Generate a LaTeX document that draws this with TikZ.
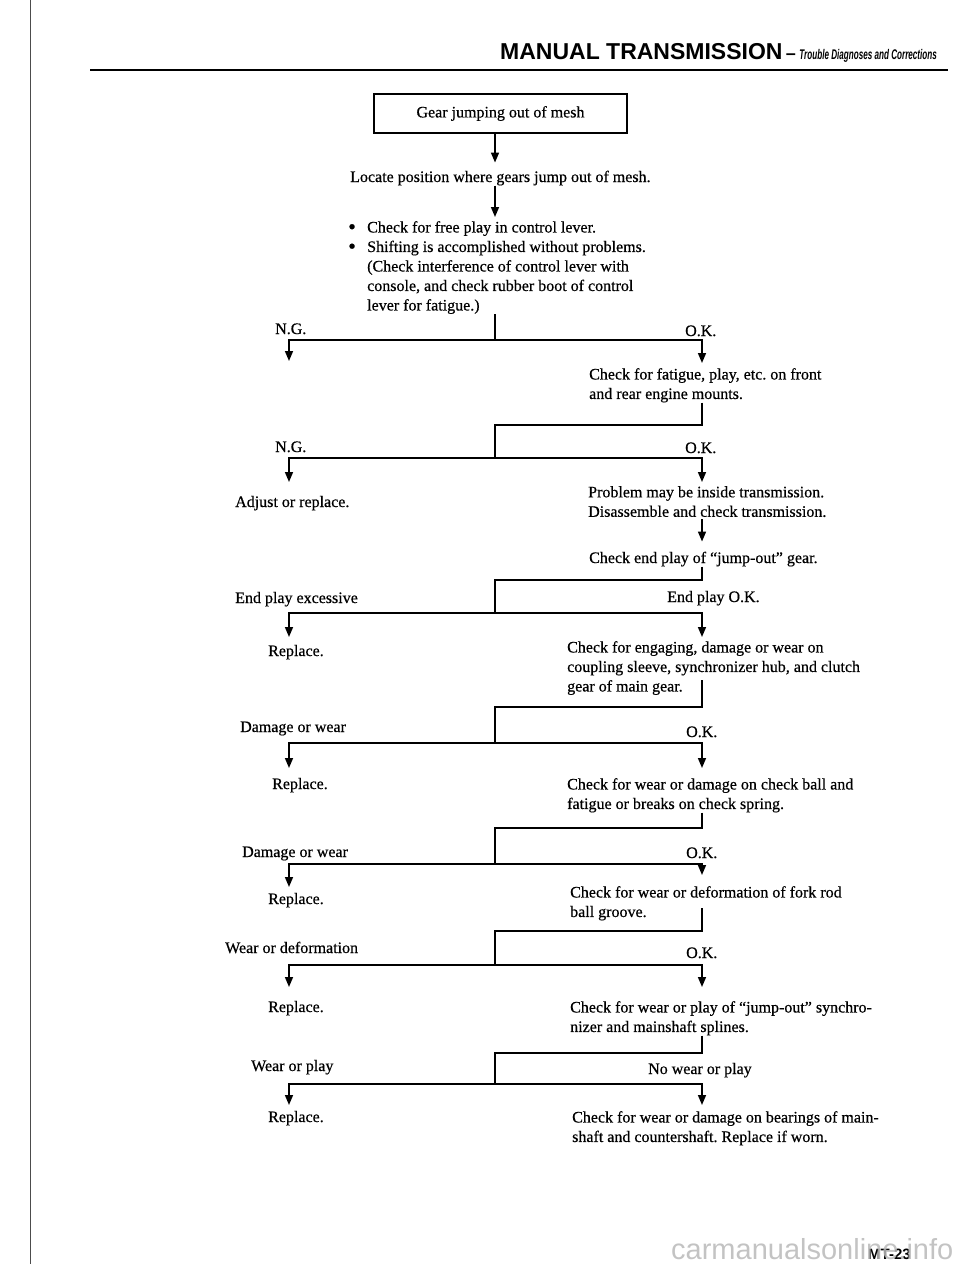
\documentclass[tikz,border=0pt]{standalone}
\usepackage{fontspec}
\setmainfont{Liberation Serif}[FakeBold=0.5]
\newfontfamily\hdrfont{Liberation Sans}
\newfontfamily\hdrcond[FakeStretch=0.58]{Liberation Sans}
\usetikzlibrary{arrows.meta}
\frenchspacing

\newcommand{\bodysize}{\fontsize{16}{19.5}\selectfont}
\newcommand{\dotmark}{\makebox[19pt][l]{\smash{\raisebox{-1.5pt}{\fontsize{22}{22}\selectfont\textbullet}}}}

\tikzset{
    txt/.style = {font=\bodysize, inner sep=0pt, align=left, anchor=north west},
    lbl/.style = {font=\bodysize, inner sep=0pt, anchor=base west},
    topbox/.style = {draw, line width=2pt, minimum width=253pt, minimum height=39pt, inner sep=0pt, font=\bodysize},
    flow/.style = {line width=1.6pt},
    flowarr/.style = {flow, ->}
}

\begin{document}
\begin{tikzpicture}[x=1pt, y=-1pt, >={Triangle[length=10pt, width=8pt]}]
    \useasboundingbox (0,0) rectangle (960,1264);

    % page edge and header
    \draw[black!70, line width=1pt] (30,0) -- (30,1264);
    \node[lbl, font={\hdrfont\fontsize{23}{23}\selectfont\bfseries}] (title) at (500,59) {MANUAL TRANSMISSION};
    \node[lbl, font={\hdrfont\fontsize{18}{18}\selectfont\bfseries}] (dash) at (title.base east) {\,–\,};
    \node[lbl, font={\hdrcond\fontsize{14}{14}\selectfont\itshape\bfseries}] (subtitle) at (dash.base east) {Trouble Diagnoses and Corrections};
    \draw[line width=2.5pt] (90,70) -- (948,70);

    % junctions of the branches
    \foreach \k/\y/\ly/\ry in {1/340/361/363, 2/458/482/482, 3/613/637/637, 4/743/768/768,
                                5/864/887/875, 6/965/987/987, 7/1084/1105/1105} {
        \coordinate (s\k) at (495,\y);
        \coordinate (lt\k) at (289,\ly);
        \coordinate (rt\k) at (702,\ry);
        \draw[flowarr] (s\k) -| (lt\k);
        \draw[flowarr] (s\k) -| (rt\k);
    }
    \foreach \k/\y in {2/425, 3/580, 4/707, 5/828, 6/931, 7/1053}
        \coordinate (b\k) at (495,\y);
    \coordinate (e4) at (702,680);
    \coordinate (e6) at (702,908);

    % top of the chart
    \node[topbox] (gear) at (500.5,113.5) {Gear jumping out of mesh};
    \node[lbl] (locate) at (350,182) {Locate position where gears jump out of mesh.};
    \node[txt] (free) at (348,221) {\dotmark Check for free play in control lever.\\
        \dotmark Shifting is accomplished without problems.\\
        \hspace*{19pt}(Check interference of control lever with\\
        \hspace*{19pt}console, and check rubber boot of control\\
        \hspace*{19pt}lever for fatigue.)};
    \draw[flowarr, shorten >=8pt] (gear.south -| s1) -- (locate.north -| s1);
    \draw[flowarr, shorten >=4pt] (locate.south -| s1) -- (free.north -| s1);
    \draw[flow] (free.south -| s1) -- (s1);

    % engine mounts
    \node[lbl] (ng1) at (275,334) {N.G.};
    \node[lbl] (ok1) at (685,336) {O.K.};
    \node[txt] (mounts) at (589,368) {Check for fatigue, play, etc. on front\\and rear engine mounts.};
    \draw[flow] (mounts.south -| rt1) |- (b2) -- (s2);

    % inside transmission
    \node[lbl] (ng2) at (275,452) {N.G.};
    \node[lbl] (ok2) at (685,453) {O.K.};
    \node[lbl] (adjust) at (235,507) {Adjust or replace.};
    \node[txt] (inside) at (588,486) {Problem may be inside transmission.\\Disassemble and check transmission.};
    \node[lbl] (endplay) at (589,563) {Check end play of ``jump-out'' gear.};
    \draw[flowarr, shorten <=2pt, shorten >=10pt] (inside.south -| rt2) -- (endplay.north -| rt2);
    \draw[flow] (endplay.south -| rt2) |- (b3) -- (s3);

    % end play
    \node[lbl] (epbad) at (235,603) {End play excessive};
    \node[lbl] (epok) at (667,602) {End play O.K.};
    \node[lbl] (rep3) at (268,656) {Replace.};
    \node[txt] (engage) at (567,641) {Check for engaging, damage or wear on\\coupling sleeve, synchronizer hub, and clutch\\gear of main gear.};
    \draw[flow] (e4) |- (b4) -- (s4);

    % coupling sleeve
    \node[lbl] (dw4) at (240,732) {Damage or wear};
    \node[lbl] (ok4) at (686,737) {O.K.};
    \node[lbl] (rep4) at (272,789) {Replace.};
    \node[txt] (ball) at (567,778) {Check for wear or damage on check ball and\\fatigue or breaks on check spring.};
    \draw[flow] (ball.south -| rt4) |- (b5) -- (s5);

    % check ball
    \node[lbl] (dw5) at (242,857) {Damage or wear};
    \node[lbl] (ok5) at (686,858) {O.K.};
    \node[lbl] (rep5) at (268,904) {Replace.};
    \node[txt] (fork) at (570,886) {Check for wear or deformation of fork rod\\ball groove.};
    \draw[flow] (e6) |- (b6) -- (s6);

    % fork rod
    \node[lbl] (wd6) at (225,953) {Wear or deformation};
    \node[lbl] (ok6) at (686,958) {O.K.};
    \node[lbl] (rep6) at (268,1012) {Replace.};
    \node[txt] (splines) at (570,1001) {Check for wear or play of ``jump-out'' synchro-\\nizer and mainshaft splines.};
    \draw[flow] (splines.south -| rt6) |- (b7) -- (s7);

    % splines
    \node[lbl] (wp7) at (251,1071) {Wear or play};
    \node[lbl] (nw7) at (648,1074) {No wear or play};
    \node[lbl] (rep7) at (268,1122) {Replace.};
    \node[txt] (bearing) at (572,1111) {Check for wear or damage on bearings of main-\\shaft and countershaft. Replace if worn.};

    % footer
    \node[lbl, font={\hdrfont\fontsize{15}{15}\selectfont\bfseries}] (page) at (868,1259) {MT-23};
    \node[lbl, font={\hdrfont\fontsize{29}{29}\selectfont}, text=gray!55, opacity=0.85] (wmark) at (671,1259) {carmanualsonline.info};
\end{tikzpicture}
\end{document}
